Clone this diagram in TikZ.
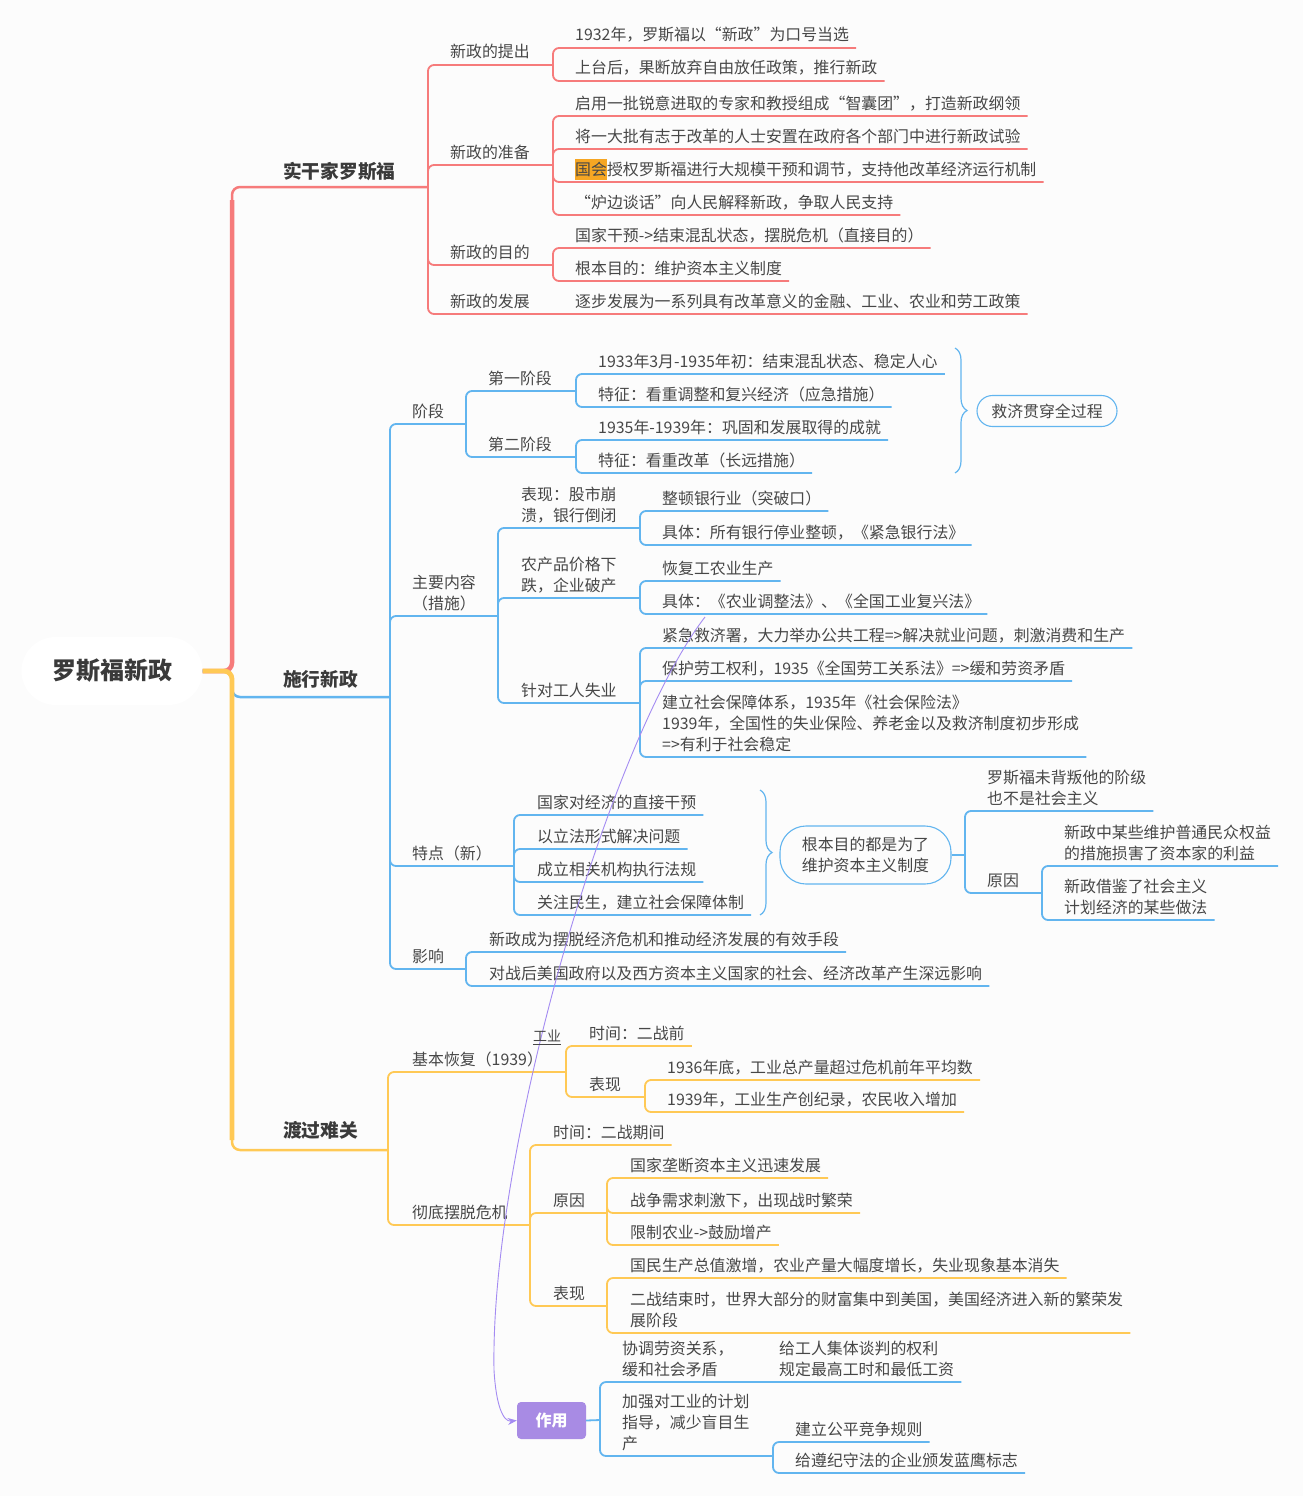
\documentclass[tikz,border=0pt]{standalone}
\usepackage{fontspec}
\setmainfont{Noto Sans CJK SC}
\usetikzlibrary{calc,arrows.meta,decorations.pathreplacing}
\definecolor{bg}{HTML}{FCFCFC}
\definecolor{rc}{HTML}{F67B7B}
\definecolor{bc}{HTML}{62B5EF}
\definecolor{yc}{HTML}{FFC955}
\definecolor{pc}{HTML}{A88BE4}
\definecolor{relc}{HTML}{A48BF2}
\definecolor{hl}{HTML}{F6A623}
\definecolor{tx}{HTML}{474747}
\definecolor{txb}{HTML}{3A3A3A}
\tikzset{
 t/.style={font=\fontsize{15.9}{21}\selectfont, text=tx, inner sep=0pt, anchor=base west, align=left},
 tc/.style={t, align=center},
 hone/.style={font=\fontsize{18.7}{22}\selectfont\bfseries, text=txb, inner sep=0pt, anchor=base west},
 rb/.style={draw=rc, line width=1.8pt, rounded corners=6pt},
 bb/.style={draw=bc, line width=1.8pt, rounded corners=6pt},
 yb/.style={draw=yc, line width=1.8pt, rounded corners=6pt},
 pill/.style={draw=bc, line width=1.1pt, text=tx, font=\fontsize{15.9}{21}\selectfont, inner sep=0pt, align=center},
 bracestyle/.style={draw=bc, line width=1.2pt, decorate, decoration={brace, amplitude=12pt}},
}
\newcommand\lf[6]{\node[t] (#3) at (#4,#5-7) {#6};\draw[#1] (#2) |- ($(#3.base east)+(7,7)$);}
\newcommand\pl[7]{\node[t] (#3) at (#4,#5-7) {#7};\coordinate (#3f) at (#6,#5);\draw[#1] (#2) |- (#3f);}
\begin{document}
\begin{tikzpicture}[x=1pt,y=-1pt]
\useasboundingbox (0,0) rectangle (1303,1496);
\fill[bg] (0,0) rectangle (1303,1496);

% root
\node[fill=white, rounded corners=34pt, minimum width=181pt, minimum height=68pt, font=\fontsize{24}{28}\selectfont\bfseries, text=txb] (root) at (112,671) {罗斯福新政};

\coordinate (rf) at (428,187);
\coordinate (bf) at (390,697);
\coordinate (yf) at (388,1150);

% trunks
\draw[rc, line width=4.5pt, rounded corners=8pt] (root.east) -- (232,671) -- (232,200);
\draw[rc, line width=2.5pt, rounded corners=8pt] (232,240) -- (232,187) -- (rf);
\draw[bc, line width=2.5pt, rounded corners=8pt] (root.east) -- (232,671) -- (232,697) -- (bf);
\draw[yc, line width=4.8pt, rounded corners=8pt] (root.east) -- (232,671) -- (232,1140);
\draw[yc, line width=2.5pt, rounded corners=8pt] (232,1100) -- (232,1150) -- (yf);

% ===== red =====
\node[hone] (L1a) at (283,178) {实干家罗斯福};
\pl{rb}{rf}{a1}{450}{65}{553}{新政的提出}
\lf{rb}{a1f}{a11}{575}{48}{1932年，罗斯福以“新政”为口号当选}
\lf{rb}{a1f}{a12}{575}{81}{上台后，果断放弃自由放任政策，推行新政}
\pl{rb}{rf}{a2}{450}{165}{553}{新政的准备}
\lf{rb}{a2f}{a21}{575}{116}{启用一批锐意进取的专家和教授组成“智囊团”，打造新政纲领}
\lf{rb}{a2f}{a22}{575}{149}{将一大批有志于改革的人士安置在政府各个部门中进行新政试验}
\fill[hl] (575,159) rectangle (607,180);
\lf{rb}{a2f}{a23}{575}{182}{国会授权罗斯福进行大规模干预和调节，支持他改革经济运行机制}
\lf{rb}{a2f}{a24}{575}{215}{“炉边谈话”向人民解释新政，争取人民支持}
\pl{rb}{rf}{a3}{450}{265}{553}{新政的目的}
\lf{rb}{a3f}{a31}{575}{248}{国家干预->结束混乱状态，摆脱危机（直接目的）}
\lf{rb}{a3f}{a32}{575}{281}{根本目的：维护资本主义制度}
\node[t] (a4) at (450,307) {新政的发展};
\lf{rb}{rf}{a41}{575}{314}{逐步发展为一系列具有改革意义的金融、工业、农业和劳工政策}

% ===== blue =====
\node[hone] (L1b) at (283,686) {施行新政};
\pl{bb}{bf}{b1}{412}{424}{466}{阶段}
\pl{bb}{b1f}{b11}{488}{391}{576}{第一阶段}
\lf{bb}{b11f}{b111}{598}{374}{1933年3月-1935年初：结束混乱状态、稳定人心}
\lf{bb}{b11f}{b112}{598}{407}{特征：看重调整和复兴经济（应急措施）}
\pl{bb}{b1f}{b12}{488}{457}{576}{第二阶段}
\lf{bb}{b12f}{b121}{598}{440}{1935年-1939年：巩固和发展取得的成就}
\lf{bb}{b12f}{b122}{598}{473}{特征：看重改革（长远措施）}
\draw[bracestyle] (955,348) -- (955,473);
\node[pill, rounded corners=15.5pt, minimum width=140pt, minimum height=31pt] (p1) at (1047,411) {救济贯穿全过程};

\node[tc] (b2) at (412,609) {主要内容\\（措施）};
\coordinate (b2f) at (498,616);
\draw[bb] (bf) |- (b2f);
\node[t] (b21) at (521,521) {表现：股市崩\\溃，银行倒闭};
\coordinate (b21f) at (640,528);
\draw[bb] (b2f) |- (b21f);
\lf{bb}{b21f}{b211}{662}{511}{整顿银行业（突破口）}
\lf{bb}{b21f}{b212}{662}{545}{具体：所有银行停业整顿，《紧急银行法》}
\node[t] (b22) at (521,591) {农产品价格下\\跌，企业破产};
\coordinate (b22f) at (640,598);
\draw[bb] (b2f) |- (b22f);
\lf{bb}{b22f}{b221}{662}{581}{恢复工农业生产}
\lf{bb}{b22f}{b222}{662}{614}{具体：《农业调整法》、《全国工业复兴法》}
\pl{bb}{b2f}{b23}{521}{703}{640}{针对工人失业}
\lf{bb}{b23f}{b231}{662}{648}{紧急救济署，大力举办公共工程=>解决就业问题，刺激消费和生产}
\lf{bb}{b23f}{b232}{662}{681}{保护劳工权利，1935《全国劳工关系法》=>缓和劳资矛盾}
\lf{bb}{b23f}{b233}{662}{757}{建立社会保障体系，1935年《社会保险法》\\1939年，全国性的失业保险、养老金以及救济制度初步形成\\=>有利于社会稳定}

\pl{bb}{bf}{b3}{412}{866}{514}{特点（新）}
\lf{bb}{b3f}{b31}{537}{815}{国家对经济的直接干预}
\lf{bb}{b3f}{b32}{537}{849}{以立法形式解决问题}
\lf{bb}{b3f}{b33}{537}{882}{成立相关机构执行法规}
\lf{bb}{b3f}{b34}{537}{915}{关注民生，建立社会保障体制}
\draw[bracestyle] (760,790) -- (760,915);
\node[pill, rounded corners=26pt, minimum width=171pt, minimum height=58pt] (p2) at (865.5,855) {根本目的都是为了\\维护资本主义制度};
\coordinate (p2f) at (965,855);
\draw[bb] (p2.east) -- (p2f);
\lf{bb}{p2f}{b35}{987}{811}{罗斯福未背叛他的阶级\\也不是社会主义}
\pl{bb}{p2f}{b36}{987}{893}{1042}{原因}
\lf{bb}{b36f}{b361}{1064}{866}{新政中某些维护普通民众权益\\的措施损害了资本家的利益}
\lf{bb}{b36f}{b362}{1064}{920}{新政借鉴了社会主义\\计划经济的某些做法}
\pl{bb}{bf}{b4}{412}{969}{466}{影响}
\lf{bb}{b4f}{b41}{489}{952}{新政成为摆脱经济危机和推动经济发展的有效手段}
\lf{bb}{b4f}{b42}{489}{986}{对战后美国政府以及西方资本主义国家的社会、经济改革产生深远影响}

% ===== yellow =====
\node[hone] (L1c) at (283,1137) {渡过难关};
\pl{yb}{yf}{c1}{412}{1072}{566}{基本恢复（1939）}
\lf{yb}{c1f}{c11}{589}{1046}{时间：二战前}
\pl{yb}{c1f}{c12}{589}{1097}{645}{表现}
\lf{yb}{c12f}{c121}{667}{1080}{1936年底，工业总产量超过危机前年平均数}
\lf{yb}{c12f}{c122}{667}{1112}{1939年，工业生产创纪录，农民收入增加}
\pl{yb}{yf}{c2}{412}{1225}{530}{彻底摆脱危机}
\lf{yb}{c2f}{c21}{553}{1145}{时间：二战期间}
\pl{yb}{c2f}{c22}{553}{1213}{607}{原因}
\lf{yb}{c22f}{c221}{630}{1178}{国家垄断资本主义迅速发展}
\lf{yb}{c22f}{c222}{630}{1213}{战争需求刺激下，出现战时繁荣}
\lf{yb}{c22f}{c223}{630}{1245}{限制农业->鼓励增产}
\pl{yb}{c2f}{c23}{553}{1306}{607}{表现}
\lf{yb}{c23f}{c231}{630}{1278}{国民生产总值激增，农业产量大幅度增长，失业现象基本消失}
\lf{yb}{c23f}{c232}{630}{1333}{二战结束时，世界大部分的财富集中到美国，美国经济进入新的繁荣发\\展阶段}

% ===== 作用 =====
\node[fill=pc, text=white, font=\fontsize{16}{18}\selectfont\bfseries, rounded corners=4pt, minimum width=69pt, minimum height=37pt, inner sep=0pt] (d0) at (551.5,1420.5) {作用};
\coordinate (df) at (600,1420);
\draw[bb] (d0.east) -- (df);
\node[t] (d1) at (622,1375) {协调劳资关系，\\缓和社会矛盾};
\lf{bb}{df}{d11}{779}{1382}{给工人集体谈判的权利\\规定最高工时和最低工资}
\node[t] (d2) at (622,1449) {加强对工业的计划\\指导，减少盲目生\\产};
\coordinate (d2f) at (773,1456);
\draw[bb] (df) |- (d2f);
\lf{bb}{d2f}{d21}{795}{1442}{建立公平竞争规则}
\lf{bb}{d2f}{d22}{795}{1473}{给遵纪守法的企业颁发蓝鹰标志}

% relationship
\draw[relc, line width=0.9pt, -{Stealth[length=9pt,width=7pt]}] ($(b222.base west)+(43,10)$) .. controls (610,740) and (490,1150) .. (494,1370) .. controls (496,1405) and (503,1422) .. (d0.west);
\node[font=\fontsize{14}{16}\selectfont, text=tx, inner sep=0pt] (rl) at (547,1036) {工业};
\draw[tx, line width=0.7pt] ($(rl.base west)+(0,3)$) -- ($(rl.base east)+(0,3)$);
\end{tikzpicture}
\end{document}
